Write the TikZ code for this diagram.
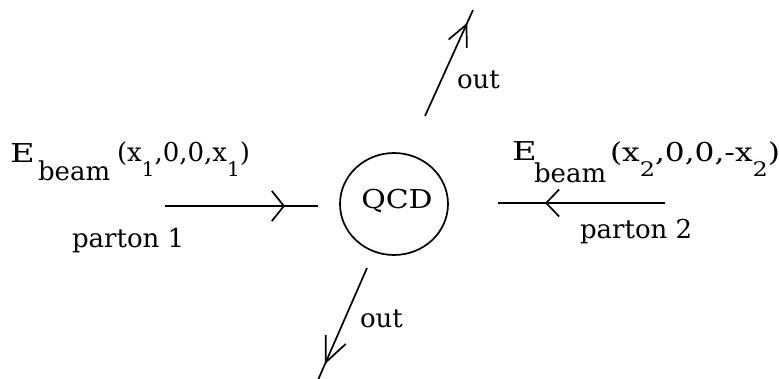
\documentclass[tikz,border=0pt]{standalone}
\usepackage{fontspec}
\setmainfont{DejaVu Serif}
\usetikzlibrary{arrows.meta,decorations.markings,shapes.geometric}
\newcommand\lowsub[1]{\raisebox{-15pt}{\fontsize{20}{20}\selectfont #1}}
\tikzset{
  lbl/.style={inner sep=0pt, outer sep=0pt, anchor=base west, font=\fontsize{26}{30}\selectfont},
  conn/.style={line width=1.7pt, black},
  midarrow/.style 2 args={postaction={decorate}, decoration={markings, mark=at position #1 with {\arrow[line width=1.7pt]{#2}}}}
}
\begin{document}
\begin{tikzpicture}[x=1pt,y=-1pt]
\useasboundingbox[fill=white] (0,0) rectangle (779,378);
% QCD blob
\node[draw, ellipse, line width=1.7pt, minimum width=108pt, minimum height=102pt, inner sep=0pt] (qcd) at (394,204) {};
\node[lbl, anchor=base] (qcdt) at (397,208) {\scalebox{1.15}[1]{QCD}};
% left beam label
\node[lbl] (e1) at (10,162) {\scalebox{1.3}[1]{E}};
\node[lbl] (b1) at (38,180) {beam};
\node[lbl] (v1) at (117,161) {(x\lowsub{1},0,0,x\lowsub{1})};
\node[lbl] (p1) at (72,247) {parton 1};
% right beam label
\node[lbl] (e2) at (512,160) {\scalebox{1.3}[1]{E}};
\node[lbl] (b2) at (534,182) {beam};
\node[lbl] (v2) at (610,161) {\scalebox{1.2}[1]{(x\lowsub{2},0,0,-x\lowsub{2})}};
\node[lbl] (p2) at (580,238) {parton 2};
% out labels
\node[lbl] (o1) at (457,88) {out};
\node[lbl] (o2) at (360,327) {out};
% connectors
\coordinate (a1) at (165,206); \coordinate (a2) at (318,206);
\coordinate (r1) at (665,203); \coordinate (r2) at (498,203);
\coordinate (u1) at (425,116); \coordinate (u2) at (473,10);
\coordinate (d1) at (367,268); \coordinate (d2) at (318,380);
\draw[conn, midarrow={0.784}{Straight Barb[length=12pt,width=30pt]}] (a1) -- (a2);
\draw[conn, midarrow={0.719}{Straight Barb[length=13pt,width=27pt]}] (r1) -- (r2);
\draw[conn, midarrow={0.88}{Straight Barb[length=21pt,width=20pt]}] (u1) -- (u2);
\draw[conn, midarrow={0.86}{Straight Barb[length=25pt,width=22pt]}] (d1) -- (d2);
\end{tikzpicture}
\end{document}
